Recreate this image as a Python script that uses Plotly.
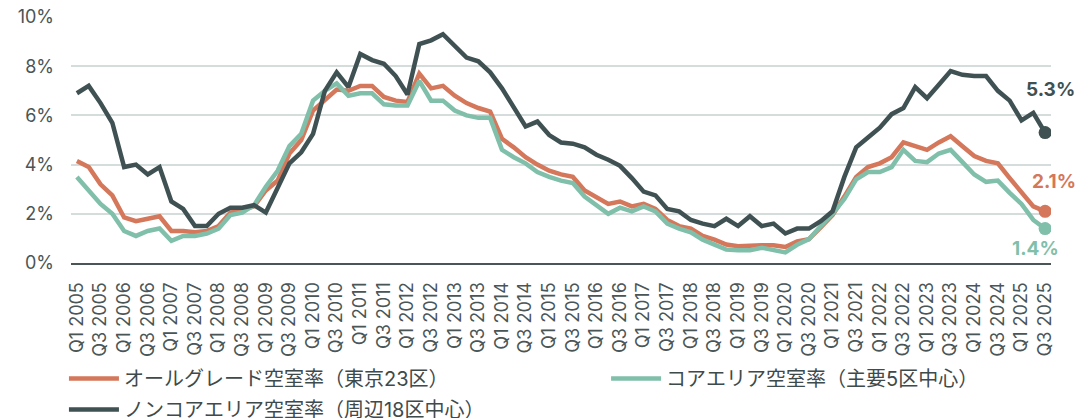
import plotly.graph_objects as go

# 四半期ラベル Q1 2005 〜 Q3 2025
quarters = [f"Q{q} {y}" for y in range(2005, 2026) for q in range(1, 5)][:83]

# オールグレード空室率（東京23区）
all_grade = [4.15, 3.9, 3.2, 2.75, 1.85, 1.7, 1.8, 1.9, 1.3, 1.3,
             1.25, 1.3, 1.5, 2.05, 2.15, 2.3, 2.95, 3.35, 4.45, 5.0,
             6.2, 6.6, 7.05, 7.0, 7.2, 7.2, 6.75, 6.6, 6.55, 7.7,
             7.1, 7.2, 6.8, 6.5, 6.3, 6.15, 5.05, 4.7, 4.3, 4.0,
             3.75, 3.6, 3.5, 2.95, 2.65, 2.4, 2.5, 2.3, 2.4, 2.2,
             1.75, 1.5, 1.4, 1.1, 0.95, 0.75, 0.68, 0.72, 0.72, 0.72,
             0.65, 0.88, 0.97, 1.45, 1.95, 2.7, 3.5, 3.9, 4.05, 4.3,
             4.9, 4.75, 4.6, 4.9, 5.15, 4.75, 4.35, 4.15, 4.05, 3.45,
             2.85, 2.3, 2.1]

# コアエリア空室率（主要5区中心）
core = [3.5, 2.95, 2.4, 2.0, 1.3, 1.1, 1.3, 1.4, 0.9, 1.1,
        1.1, 1.2, 1.4, 1.95, 2.05, 2.35, 3.1, 3.75, 4.75, 5.25,
        6.6, 7.0, 7.3, 6.8, 6.9, 6.9, 6.45, 6.4, 6.4, 7.4,
        6.6, 6.6, 6.2, 6.0, 5.9, 5.9, 4.6, 4.3, 4.05, 3.7,
        3.5, 3.35, 3.25, 2.7, 2.35, 2.0, 2.25, 2.1, 2.3, 2.1,
        1.6, 1.4, 1.25, 0.95, 0.75, 0.55, 0.52, 0.52, 0.62, 0.52,
        0.43, 0.74, 0.97, 1.5, 2.0, 2.6, 3.4, 3.7, 3.7, 3.9,
        4.6, 4.15, 4.1, 4.45, 4.6, 4.1, 3.6, 3.3, 3.35, 2.85,
        2.4, 1.75, 1.4]

# ノンコアエリア空室率（周辺18区中心）
non_core = [6.9, 7.2, 6.5, 5.7, 3.9, 4.0, 3.6, 3.9, 2.5, 2.2,
            1.5, 1.5, 2.0, 2.25, 2.25, 2.35, 2.05, 3.0, 4.05, 4.5,
            5.25, 7.0, 7.75, 7.15, 8.5, 8.25, 8.1, 7.6, 6.85, 8.9,
            9.05, 9.3, 8.85, 8.35, 8.2, 7.75, 7.1, 6.35, 5.55, 5.75,
            5.2, 4.9, 4.85, 4.7, 4.4, 4.2, 3.95, 3.45, 2.9, 2.75,
            2.2, 2.1, 1.75, 1.6, 1.5, 1.8, 1.5, 1.9, 1.5, 1.6,
            1.2, 1.4, 1.4, 1.7, 2.1, 3.5, 4.7, 5.1, 5.5, 6.05,
            6.3, 7.15, 6.7, 7.25, 7.8, 7.65, 7.6, 7.6, 7.0, 6.6,
            5.8, 6.1, 5.3]

y_ticks = [0, 2, 4, 6, 8, 10]

ORANGE = "#D4775A"
TEAL = "#80BFAA"
DARK = "#3F5152"
FONT = "Inter, 'Noto Sans CJK JP', sans-serif"

series = [
    ("オールグレード空室率（東京23区）", all_grade, ORANGE, "legend"),
    ("コアエリア空室率（主要5区中心）", core, TEAL, "legend2"),
    ("ノンコアエリア空室率（周辺18区中心）", non_core, DARK, "legend"),
]

fig = go.Figure()
for name, vals, color, leg in series:
    fig.add_trace(go.Scatter(
        x=quarters, y=vals, name=name, mode="lines", legend=leg, legendgroup=name,
        line=dict(color=color, width=4.5),
    ))
    # 最終点のマーカー
    fig.add_trace(go.Scatter(
        x=[quarters[-1]], y=[vals[-1]], mode="markers", showlegend=False,
        marker=dict(color=color, size=13), hoverinfo="skip",
    ))

# 最終値ラベル
for vals, color, dy, dx in [(non_core, DARK, 43, 5), (all_grade, ORANGE, 30, 9), (core, TEAL, -20, -10)]:
    fig.add_annotation(
        x=quarters[-1], y=vals[-1], text=f"<b>{vals[-1]:.1f}%</b>",
        showarrow=False, yshift=dy, xshift=dx,
        font=dict(family=FONT, size=19, color=color),
    )

# 凡例はプロット下に2列（yはコンテナ基準）
LEGEND_TOP = 359
legend_style = dict(
    orientation="v", xanchor="left", yanchor="top",
    yref="container", y=1 - LEGEND_TOP / 418,
    itemwidth=50, tracegroupgap=2, bgcolor="rgba(0,0,0,0)",
    font=dict(family=FONT, size=20, color="#3F4A4B"),
)

fig.update_layout(
    width=1075, height=418,
    margin=dict(l=71, r=24, t=17, b=155),
    paper_bgcolor="white", plot_bgcolor="white",
    font=dict(family=FONT, size=17, color="#4A5556"),
    showlegend=True,
    legend=dict(x=-0.0072, **legend_style),
    legend2=dict(x=0.546, **legend_style),
)
fig.update_xaxes(
    type="category", range=[-0.5, 82.5], automargin=False,
    tickmode="array", tickvals=quarters[::2], ticktext=quarters[::2],
    tickangle=-90, showgrid=False, ticks="", ticklabelstandoff=10,
    showline=True, linecolor="#4A5556", linewidth=2,
    tickfont=dict(family=FONT, size=18, color="#4A5556"),
)
fig.update_yaxes(
    range=[0, 10], tickvals=y_ticks, ticktext=[f"{v}%" for v in y_ticks],
    automargin=False,
    showgrid=True, gridcolor="#D5DCDC", gridwidth=1.5, zeroline=False,
    ticks="", ticklabelstandoff=16, tickfont=dict(family=FONT, size=18, color="#4A5556"),
)

fig.write_html("out.html", config={"displayModeBar": False},
               post_script="document.body.style.margin='0';")
